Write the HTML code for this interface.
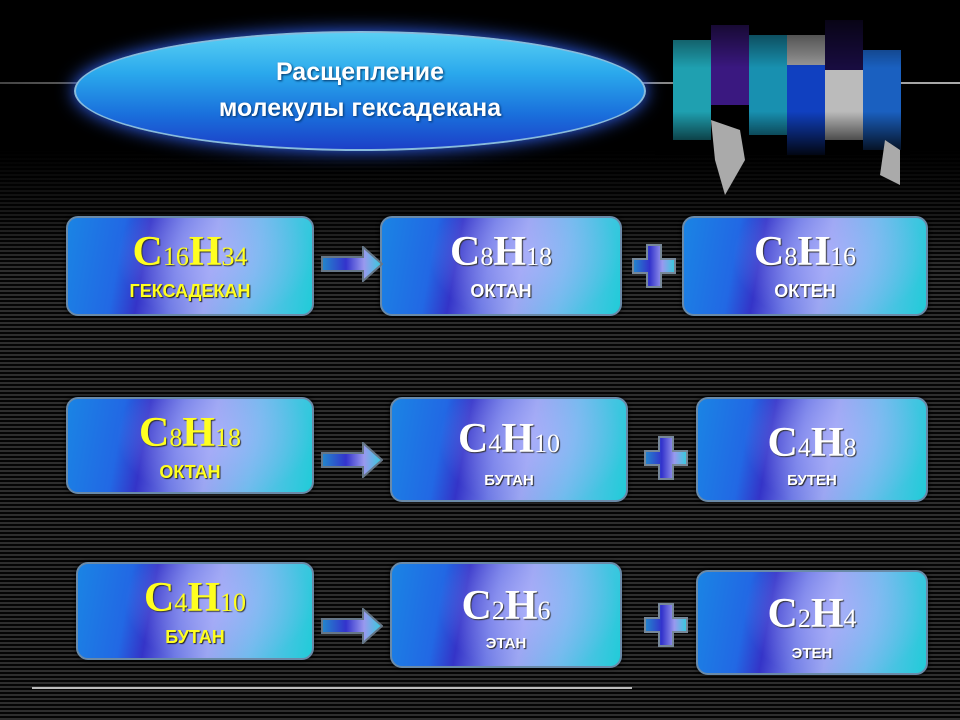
<!DOCTYPE html>
<html><head><meta charset="utf-8"><style>
body{margin:0;width:960px;height:720px;overflow:hidden;background:#000;position:relative;font-family:"Liberation Sans",sans-serif}
.stripes{position:absolute;left:0;top:150px;width:960px;height:570px;background:repeating-linear-gradient(180deg,#2e2e2e 0,#2e2e2e 2px,#050505 2px,#050505 4px);}
.fade{position:absolute;left:0;top:150px;width:960px;height:120px;background:linear-gradient(#000,rgba(0,0,0,0))}
.box{position:absolute;border-radius:12px;border:2px solid #6a8aa8;box-sizing:border-box;
background:radial-gradient(ellipse 40% 70% at 60% 40%,rgba(180,180,255,.6),rgba(180,180,255,0)),linear-gradient(100deg,#1a84e4 0%,#2268e4 22%,#3434c8 32%,#6c78e4 45%,#98a4f0 58%,#6cbcec 75%,#20ccd8 100%);
text-align:center;color:#fff;box-shadow:0 0 4px #000}
.f{font-family:"Liberation Serif",serif;font-weight:bold;font-size:42px;line-height:40px;margin-top:14px;text-shadow:1px 1px 1px #333}
.f sub{font-size:26px;font-weight:normal;vertical-align:baseline}
.n{font-weight:bold;font-size:18px;margin-top:4px;text-shadow:1px 1px 1px #222}
.y{color:#ffff20}
.arrow{position:absolute;width:62px;height:36px}
.plus{position:absolute;width:44px;height:44px}
</style></head><body>
<div class="stripes"></div><div class="fade"></div>
<div style="position:absolute;left:0;top:82px;width:960px;height:2px;background:linear-gradient(90deg,#444,#999 30%,#888 70%,#aaa)"></div>
<svg style="position:absolute;left:655px;top:10px" width="255" height="190">
<defs><linearGradient id="v" x1="0" y1="0" x2="0" y2="1"><stop offset="0" stop-color="#000" stop-opacity=".8"/><stop offset=".4" stop-color="#000" stop-opacity="0"/><stop offset=".7" stop-color="#000" stop-opacity="0"/><stop offset="1" stop-color="#000" stop-opacity=".9"/></linearGradient></defs>
<g>
<rect x="18" y="30" width="38" height="100" fill="#1fa0b0"/>
<rect x="56" y="15" width="38" height="80" fill="#3a1880"/>
<rect x="94" y="25" width="38" height="100" fill="#1890b0"/>
<rect x="132" y="55" width="38" height="90" fill="#1040c0"/>
<rect x="132" y="25" width="38" height="30" fill="#999"/>
<rect x="170" y="60" width="38" height="70" fill="#bbb"/>
<rect x="170" y="10" width="38" height="50" fill="#180c40"/>
<rect x="208" y="40" width="38" height="100" fill="#1a60c0"/>
</g>
<rect x="0" y="0" width="255" height="145" fill="url(#v)"/>
<path d="M56 110 L85 120 L90 150 L70 185 L60 150Z" fill="#aaa"/>
<path d="M230 130 L245 140 L245 175 L225 165Z" fill="#aaa"/>
</svg>
<div style="position:absolute;left:74px;top:31px;width:572px;height:120px;border-radius:50%;border:2px solid #8bd;box-sizing:border-box;background:linear-gradient(180deg,#5ad0f4 0%,#2aa8ec 35%,#1a70dc 70%,#1c40c8 100%);box-shadow:0 0 18px #36f"></div>
<div style="position:absolute;left:74px;top:54px;width:572px;text-align:center;color:#fff;font-size:25px;font-weight:bold;line-height:36px;text-shadow:1px 1px 2px #036">Расщепление<br>молекулы гексадекана</div>

<div class="box" style="left:66px;top:216px;width:248px;height:100px"><div class="f y">C<sub>16</sub>H<sub>34</sub></div><div class="n y">ГЕКСАДЕКАН</div></div>
<div class="box" style="left:380px;top:216px;width:242px;height:100px"><div class="f">C<sub>8</sub>H<sub>18</sub></div><div class="n">ОКТАН</div></div>
<div class="box" style="left:682px;top:216px;width:246px;height:100px"><div class="f">C<sub>8</sub>H<sub>16</sub></div><div class="n">ОКТЕН</div></div>

<div class="box" style="left:66px;top:397px;width:248px;height:97px"><div class="f y">C<sub>8</sub>H<sub>18</sub></div><div class="n y">ОКТАН</div></div>
<div class="box" style="left:390px;top:397px;width:238px;height:105px"><div class="f" style="margin-top:20px">C<sub>4</sub>H<sub>10</sub></div><div class="n" style="font-size:15px;margin-top:8px">БУТАН</div></div>
<div class="box" style="left:696px;top:397px;width:232px;height:105px"><div class="f" style="margin-top:24px">C<sub>4</sub>H<sub>8</sub></div><div class="n" style="font-size:15px">БУТЕН</div></div>

<div class="box" style="left:76px;top:562px;width:238px;height:98px"><div class="f y">C<sub>4</sub>H<sub>10</sub></div><div class="n y">БУТАН</div></div>
<div class="box" style="left:390px;top:562px;width:232px;height:106px"><div class="f" style="margin-top:22px">C<sub>2</sub>H<sub>6</sub></div><div class="n" style="font-size:15px">ЭТАН</div></div>
<div class="box" style="left:696px;top:570px;width:232px;height:105px"><div class="f" style="margin-top:22px">C<sub>2</sub>H<sub>4</sub></div><div class="n" style="font-size:15px;margin-top:6px">ЭТЕН</div></div>

<svg width="0" height="0" style="position:absolute"><defs><linearGradient id="g" x1="0" x2="1"><stop offset="0" stop-color="#28c"/><stop offset=".4" stop-color="#33c"/><stop offset=".7" stop-color="#99e"/><stop offset="1" stop-color="#3cd"/></linearGradient></defs></svg>
<svg class="arrow" style="left:321px;top:246px" viewBox="0 0 62 36"><path d="M1 11H42V1L61 18L42 35V25H1Z" fill="url(#g)" stroke="#678" stroke-width="2"/></svg>
<svg class="arrow" style="left:321px;top:442px" viewBox="0 0 62 36"><path d="M1 11H42V1L61 18L42 35V25H1Z" fill="url(#g)" stroke="#678" stroke-width="2"/></svg>
<svg class="arrow" style="left:321px;top:608px" viewBox="0 0 62 36"><path d="M1 11H42V1L61 18L42 35V25H1Z" fill="url(#g)" stroke="#678" stroke-width="2"/></svg>
<svg class="plus" style="left:632px;top:244px" viewBox="0 0 44 44"><path d="M15 1H29V15H43V29H29V43H15V29H1V15H15Z" fill="url(#g)" stroke="#789" stroke-width="2"/></svg>
<svg class="plus" style="left:644px;top:436px" viewBox="0 0 44 44"><path d="M15 1H29V15H43V29H29V43H15V29H1V15H15Z" fill="url(#g)" stroke="#789" stroke-width="2"/></svg>
<svg class="plus" style="left:644px;top:603px" viewBox="0 0 44 44"><path d="M15 1H29V15H43V29H29V43H15V29H1V15H15Z" fill="url(#g)" stroke="#789" stroke-width="2"/></svg>
<div style="position:absolute;left:32px;top:687px;width:600px;height:2px;background:#bbb"></div>
</body></html>
